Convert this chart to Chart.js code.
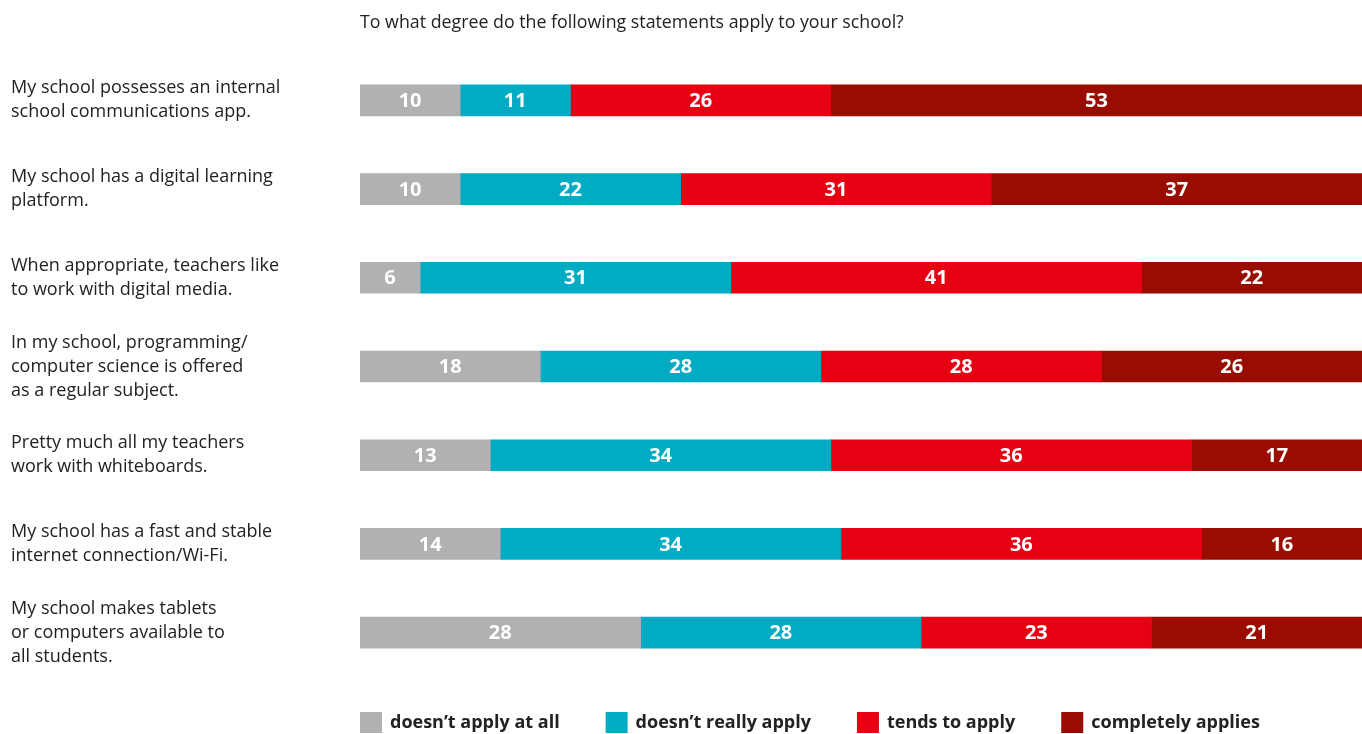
<!DOCTYPE html>
<html>
<head>
<meta charset="utf-8">
<script src="https://cdn.jsdelivr.net/npm/chart.js@4"></script>
<style>
html,body{margin:0;padding:0;background:#fff;}
#wrap{width:1362px;height:734px;position:relative;}
</style>
</head>
<body>
<div id="wrap"><canvas id="c" width="1362" height="734"></canvas></div>
<script>
const titleText = "To what degree do the following statements apply to your school?";
const categories = [
  ["My school possesses an internal", "school communications app."],
  ["My school has a digital learning", "platform."],
  ["When appropriate, teachers like", "to work with digital media."],
  ["In my school, programming/", "computer science is offered", "as a regular subject."],
  ["Pretty much all my teachers", "work with whiteboards."],
  ["My school has a fast and stable", "internet connection/Wi-Fi."],
  ["My school makes tablets", "or computers available to", "all students."]
];
const seriesNames = ["doesn\u2019t apply at all", "doesn\u2019t really apply", "tends to apply", "completely applies"];
const notAtAll   = [10, 10, 6, 18, 13, 14, 28];
const notReally  = [11, 22, 31, 28, 34, 34, 28];
const tendsTo    = [26, 31, 41, 28, 36, 36, 23];
const completely = [53, 37, 22, 26, 17, 16, 21];
const colors = ["#B1B1B3", "#00ABC3", "#E60012", "#990C00"];

const FONT = "'Open Sans', 'Noto Sans', sans-serif";

const catLabelPlugin = {
  id: 'catLabels',
  afterDraw(chart) {
    const ctx = chart.ctx;
    const y = chart.scales.y;
    ctx.save();
    ctx.font = "18px " + FONT;
    ctx.fillStyle = "#222";
    ctx.textAlign = "left";
    ctx.textBaseline = "middle";
    const lh = 24;
    chart.data.labels.forEach((lines, i) => {
      const cy = y.getPixelForValue(i);
      const n = lines.length;
      lines.forEach((ln, k) => {
        ctx.fillText(ln, 11, cy + (k - (n - 1) / 2) * lh);
      });
    });
    // title
    ctx.font = "17.8px " + FONT;
    ctx.fillText(titleText, chart.chartArea.left, 23);
    ctx.restore();
  }
};

const valueLabelPlugin = {
  id: 'valueLabels',
  afterDatasetsDraw(chart) {
    const ctx = chart.ctx;
    ctx.save();
    ctx.font = "bold 20px " + FONT;
    ctx.fillStyle = "#fff";
    ctx.textAlign = "center";
    ctx.textBaseline = "middle";
    chart.data.datasets.forEach((ds, di) => {
      const meta = chart.getDatasetMeta(di);
      meta.data.forEach((el, i) => {
        const p = el.getProps(['x', 'y', 'base'], true);
        ctx.fillText(String(ds.data[i]), (p.x + p.base) / 2, p.y + 1);
      });
    });
    ctx.restore();
  }
};

const legendPlugin = {
  id: 'customLegend',
  afterDraw(chart) {
    const ctx = chart.ctx;
    ctx.save();
    ctx.font = "bold 18px " + FONT;
    ctx.textBaseline = "middle";
    ctx.textAlign = "left";
    let x = chart.chartArea.left;
    const boxY = 712, box = 22;
    chart.data.datasets.forEach((ds) => {
      ctx.fillStyle = ds.backgroundColor;
      ctx.fillRect(x, boxY, box, box - 1);
      ctx.fillStyle = "#222";
      const tx = x + box + 8;
      ctx.fillText(ds.label, tx, boxY + 11);
      x = tx + ctx.measureText(ds.label).width + 46;
    });
    ctx.restore();
  }
};

const allSeries = [notAtAll, notReally, tendsTo, completely];

new Chart(document.getElementById('c'), {
  type: 'bar',
  data: {
    labels: categories,
    datasets: allSeries.map((d, i) => ({
      label: seriesNames[i],
      data: d,
      backgroundColor: colors[i],
      borderWidth: 0,
      barThickness: 31
    }))
  },
  options: {
    indexAxis: 'y',
    responsive: false,
    animation: false,
    layout: { padding: { left: 360, right: 0, top: 56, bottom: 57 } },
    scales: {
      x: { stacked: true, min: 0, max: 100, display: false },
      y: { stacked: true, display: false }
    },
    plugins: {
      legend: { display: false },
      tooltip: { enabled: false },
      title: { display: false }
    }
  },
  plugins: [catLabelPlugin, valueLabelPlugin, legendPlugin]
});
</script>
</body>
</html>
